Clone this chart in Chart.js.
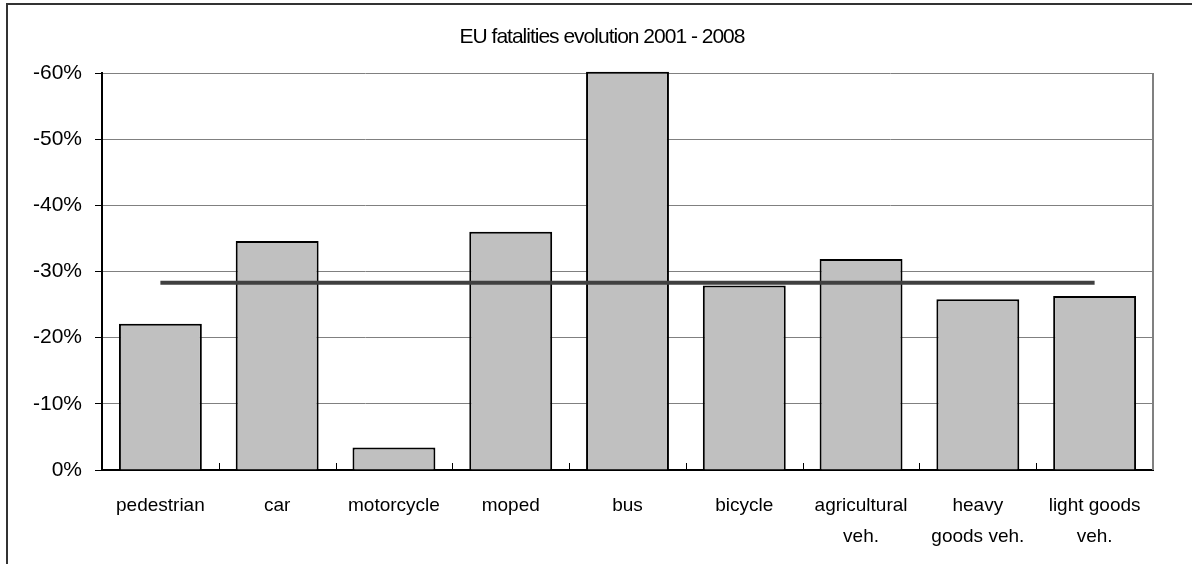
<!DOCTYPE html>
<html>
<head>
<meta charset="utf-8">
<script src="https://cdn.jsdelivr.net/npm/chart.js@4"></script>
<style>
  html, body { margin: 0; padding: 0; background: #fff; }
  canvas { display: block; }
</style>
</head>
<body>
<canvas id="chart" width="1192" height="564"></canvas>
<script>
// data
const chartTitle = "EU fatalities evolution 2001 - 2008";
const categories = [
  "pedestrian", "car", "motorcycle", "moped", "bus", "bicycle",
  ["agricultural", "veh."], ["heavy", "goods veh."], ["light goods", "veh."]
];
const evolution = [-22.1, -34.6, -3.4, -36.0, -60.2, -27.9, -31.9, -25.8, -26.3];
const euAverage = -28.3;
const yTicks = [0, -10, -20, -30, -40, -50, -60];

const frame = {
  id: "frame",
  afterDraw(chart) {
    const ctx = chart.ctx;
    const a = chart.chartArea;
    const x = chart.scales.x;
    ctx.save();
    // outer frame of the picture
    ctx.strokeStyle = "#333";
    ctx.lineWidth = 2;
    ctx.beginPath();
    ctx.moveTo(7, 564);
    ctx.lineTo(7, 4);
    ctx.lineTo(1192, 4);
    ctx.stroke();
    // right edge of plot area
    ctx.strokeStyle = "#808080";
    ctx.beginPath();
    ctx.moveTo(a.right, a.top);
    ctx.lineTo(a.right, a.bottom);
    ctx.stroke();
    // small inward ticks between categories
    ctx.strokeStyle = "#000";
    ctx.lineWidth = 1;
    for (let i = 1; i < categories.length; i++) {
      const px = Math.round((x.getPixelForValue(i - 1) + x.getPixelForValue(i)) / 2) + 0.5;
      ctx.beginPath();
      ctx.moveTo(px, a.bottom);
      ctx.lineTo(px, a.bottom - 7);
      ctx.stroke();
    }
    // title, centred on the whole picture
    ctx.fillStyle = "#000";
    ctx.font = "21px 'Liberation Sans'";
    ctx.letterSpacing = "-1px";
    ctx.textAlign = "center";
    ctx.textBaseline = "alphabetic";
    ctx.fillText(chartTitle, 602, 43);
    ctx.restore();
  }
};

new Chart(document.getElementById("chart"), {
  data: {
    labels: categories,
    datasets: [
      {
        type: "line",
        data: categories.map(() => euAverage),
        borderColor: "#404040",
        borderWidth: 4,
        pointRadius: 0,
        order: 0
      },
      {
        type: "bar",
        data: evolution,
        backgroundColor: "#c0c0c0",
        borderColor: "#000",
        borderWidth: 2,
        categoryPercentage: 1,
        barPercentage: 0.71,
        clip: 4,
        order: 1
      }
    ]
  },
  options: {
    responsive: false,
    devicePixelRatio: 1,
    animation: false,
    layout: { padding: { left: 0, right: 39, top: 73, bottom: 0 } },
    plugins: {
      legend: { display: false },
      tooltip: { enabled: false },
      title: { display: false }
    },
    scales: {
      x: {
        offset: true,
        grid: { display: false, drawTicks: false },
        border: { color: "#000", width: 2 },
        ticks: {
          color: "#000",
          padding: 21,
          maxRotation: 0,
          autoSkip: false,
          font: { family: "Liberation Sans", size: 19, lineHeight: 1.6 }
        },
        afterFit(s) { s.height = 94; }
      },
      y: {
        min: -60,
        max: 0,
        reverse: true,
        afterBuildTicks(s) { s.ticks = yTicks.map(v => ({ value: v })); },
        grid: { color: "#808080", lineWidth: 1, tickLength: 7, tickColor: "#000" },
        border: { color: "#000", width: 2 },
        ticks: {
          color: "#000",
          padding: 13,
          font: { family: "Liberation Sans", size: 21 },
          callback: v => v + "%"
        },
        afterFit(s) { s.width = 102; }
      }
    }
  },
  plugins: [frame]
});
</script>
</body>
</html>
